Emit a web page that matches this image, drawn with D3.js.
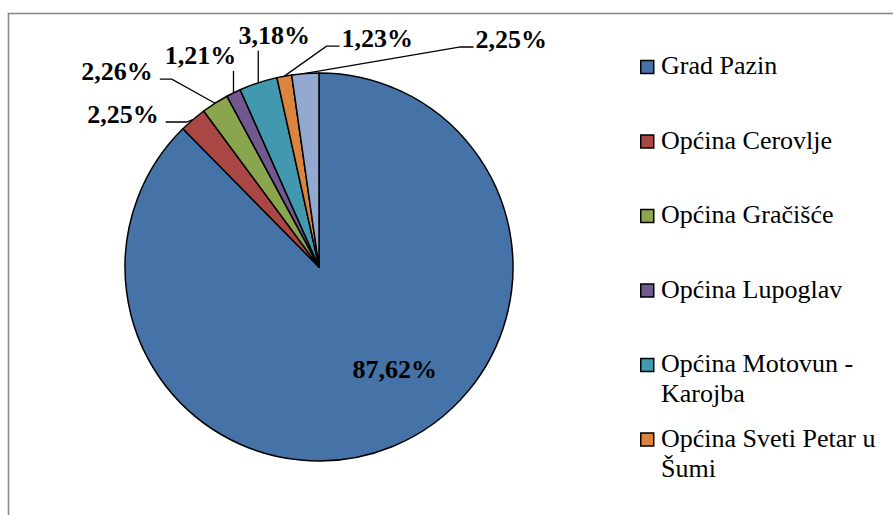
<!DOCTYPE html>
<html>
<head>
<meta charset="utf-8">
<script src="https://cdn.jsdelivr.net/npm/d3@7"></script>
<style>
  body { margin: 0; background: #fff; overflow: hidden; }
  svg { display: block; }
</style>
</head>
<body>
<svg id="chart"></svg>
<script>
// data
const categories = ["Grad Pazin", "Općina Cerovlje", "Općina Gračišće", "Općina Lupoglav",
  "Općina Motovun - Karojba", "Općina Sveti Petar u Šumi", "Općina Tinjan"];
const shares = [87.62, 2.25, 2.26, 1.21, 3.18, 1.23, 2.25];
const colors = ["#4572A7", "#AA4643", "#89A54E", "#71588F", "#4198AF", "#DB843D", "#93A9CF"];

// manual nudges of the data labels (relative to slice edge / centroid)
const labelNudge = [
  { dx: 39, dy: 21, side: 'inside' },
  { dx: -70, dy: 3.5, side: 'left', knee: 21 },
  { dx: -98, dy: -23, side: 'left', knee: 12 },
  { dx: -33, dy: -29, side: 'top' },
  { dx: 16, dy: -39, side: 'top' },
  { dx: 93, dy: -29, side: 'right', knee: 13 },
  { dx: 206, dy: -25.5, side: 'right', knee: 13 }
];

const width = 893, height = 515;
const font = '"Liberation Serif", "Times New Roman", serif';
const cx = 319, cy = 267, radius = 194;

const svg = d3.select('#chart')
    .attr('width', width)
    .attr('height', height);

// chart frame (runs past the window on the right and bottom)
svg.append('rect')
    .attr('x', 8.5)
    .attr('y', 13.5)
    .attr('width', 1000)
    .attr('height', 1000)
    .attr('fill', 'none')
    .attr('stroke', '#8a8a8a')
    .attr('stroke-width', 1.6);

const pie = d3.pie().sort(null).value(d => d);
const arcs = pie(shares);
const arc = d3.arc().innerRadius(0).outerRadius(radius);

const g = svg.append('g').attr('transform', `translate(${cx},${cy})`);

g.selectAll('path')
    .data(arcs)
    .join('path')
    .attr('d', arc)
    .attr('fill', (d, i) => colors[i])
    .attr('stroke', '#000')
    .attr('stroke-width', 1.5)
    .attr('stroke-linejoin', 'round');

const fmt = v => d3.format('.2f')(v).replace('.', ',') + '%';

const labels = g.append('g')
    .attr('font-family', font)
    .attr('font-weight', 'bold')
    .attr('font-size', '26px')
    .attr('fill', '#000');

arcs.forEach((d, i) => {
  const nudge = labelNudge[i];
  const mid = (d.startAngle + d.endAngle) / 2;
  let base;
  if (nudge.side === 'inside') {
    base = arc.centroid(d);
  } else {
    base = [radius * Math.sin(mid), -radius * Math.cos(mid)];
  }
  const tx = base[0] + nudge.dx, ty = base[1] + nudge.dy;
  const t = labels.append('text')
      .attr('x', tx)
      .attr('y', ty)
      .attr('text-anchor', 'middle')
      .text(fmt(shares[i]));
  if (nudge.side === 'inside') return;

  const w = t.node().getComputedTextLength();
  let pts;
  if (nudge.side === 'left') {
    const tip = [tx + w / 2 + 7, ty - 1];
    pts = [tip, [tip[0] + nudge.knee, tip[1]], base];
  } else if (nudge.side === 'right') {
    const tip = [tx - w / 2 - 2, ty - 1];
    pts = [tip, [tip[0] - nudge.knee, tip[1]], base];
  } else {
    pts = [[base[0], ty + 7], base];
  }
  g.append('path')
      .attr('d', d3.line()(pts))
      .attr('fill', 'none')
      .attr('stroke', '#000')
      .attr('stroke-width', 1.3);
});

// legend
const legend = svg.append('g')
    .attr('font-family', font)
    .attr('font-size', '26px')
    .attr('fill', '#000');

const legendX = 640, legendTop = 74, legendStep = 74.5, lineH = 30, wrapW = 222;
const legendBottom = 500; // entries past this are truncated, like the original

categories.forEach((name, i) => {
  const y = legendTop + i * legendStep;
  if (y > legendBottom) return;
  legend.append('rect')
      .attr('x', legendX + 0.75)
      .attr('y', y - 13.5)
      .attr('width', 13)
      .attr('height', 13)
      .attr('fill', colors[i])
      .attr('stroke', '#000')
      .attr('stroke-width', 1.5);
  const text = legend.append('text')
      .attr('x', legendX + 21)
      .attr('y', y);
  // wrap words into lines
  const words = name.split(' ');
  let line = [];
  let lineNo = 0;
  let tspan = text.append('tspan').attr('x', legendX + 21).attr('y', y);
  words.forEach(word => {
    line.push(word);
    tspan.text(line.join(' '));
    if (tspan.node().getComputedTextLength() > wrapW && line.length > 1) {
      line.pop();
      tspan.text(line.join(' '));
      line = [word];
      lineNo++;
      tspan = text.append('tspan')
          .attr('x', legendX + 21)
          .attr('y', y + lineNo * lineH)
          .text(word);
    }
  });
});
</script>
</body>
</html>
